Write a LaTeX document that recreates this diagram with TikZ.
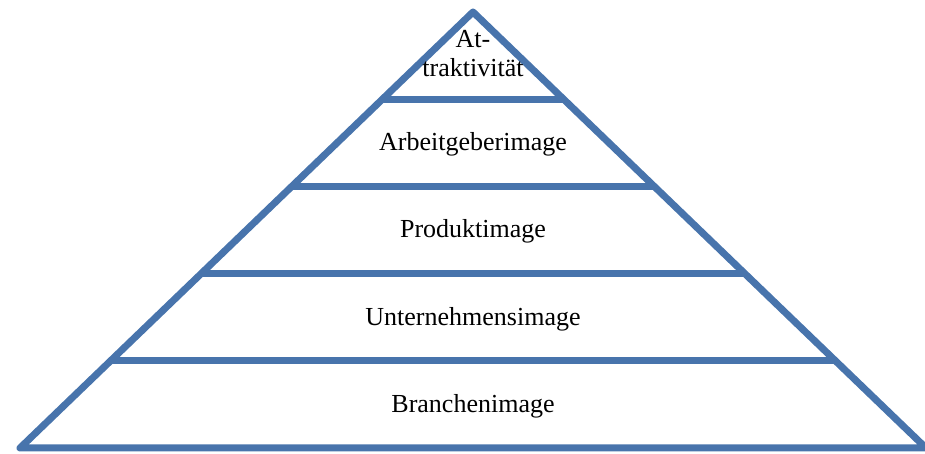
\documentclass[tikz,border=0pt]{standalone}
\usepackage{fontspec}
\setmainfont{Liberation Serif}
\usetikzlibrary{calc}
\definecolor{pyrblue}{RGB}{72,116,172}

\begin{document}
\begin{tikzpicture}[x=1pt,y=1pt,
    edge/.style={pyrblue,line width=7pt,line join=round},
    layer/.style={font=\fontsize{26}{29}\selectfont,inner sep=0pt,anchor=base}]
    \useasboundingbox (0,0) rectangle (925,454);
    \coordinate (L) at (20,6);
    \coordinate (R) at (926,6);
    \coordinate (T) at (473,442);
    % pyramid and layer lines
    \draw[edge](L)--(T)--(R)--cycle;
    \foreach \t in {0.2,0.4,0.6,0.8}
      \draw[edge]($(L)!\t!(T)$)--($(R)!\t!(T)$);
    % layer labels
    \node[layer](branche) at (473,41) {Branchenimage};
    \node[layer](unternehmen) at (473,128) {Unternehmensimage};
    \node[layer](produkt) at (473,216) {Produktimage};
    \node[layer](arbeitgeber) at (473,303) {Arbeitgeberimage};
    \node[layer,anchor=center,align=center](attraktiv) at (473,400) {At-\\traktivität};
  \end{tikzpicture}
\end{document}
